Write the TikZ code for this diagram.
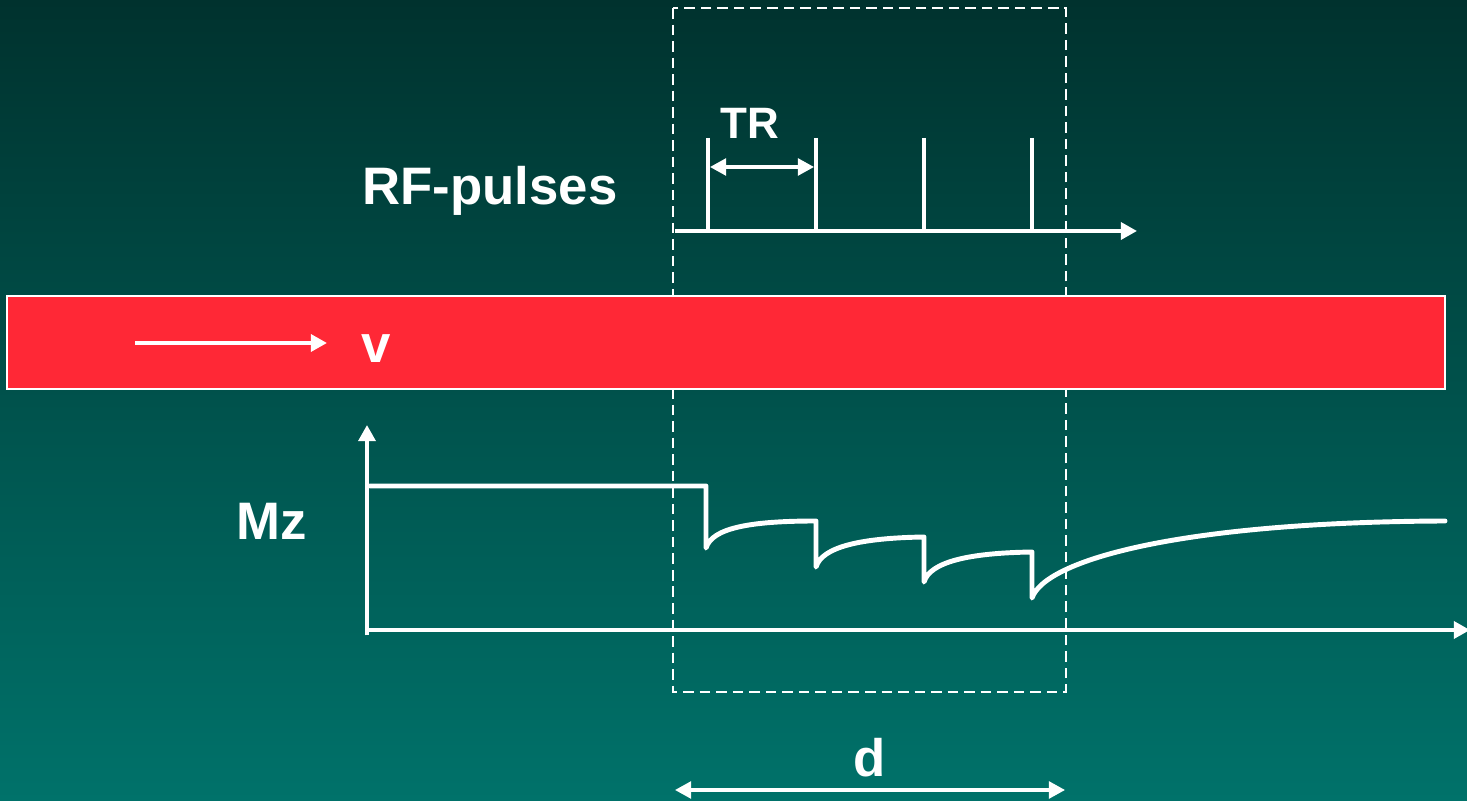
\documentclass[tikz,border=0pt]{standalone}
\usepackage{fontspec}
\setmainfont{Liberation Sans}
\usetikzlibrary{arrows.meta}
\definecolor{bgtop}{RGB}{0,50,46}
\definecolor{bgbot}{RGB}{0,114,106}
\definecolor{flowred}{RGB}{255,40,54}

\begin{document}
\begin{tikzpicture}[x=0.01cm, y=-0.01cm, axis/.style={-{Triangle[length=4.6pt, width=4.8pt]}, white, line width=1.1pt}, dim/.style={{Triangle[length=4.6pt, width=4.8pt]}-{Triangle[length=4.6pt, width=4.8pt]}, white, line width=0.9pt}, pulse/.style={white, line width=1.1pt}, curve/.style={white, line width=1.4pt, line cap=round, line join=round}, label/.style={text=white, font=\fontsize{15}{18}\selectfont\bfseries}, note/.style={text=white, font=\fontsize{12.5}{15}\selectfont\bfseries}]

\shade[top color=bgtop, bottom color=bgbot] (0,0) rectangle (1467,801);
\useasboundingbox (0,0) rectangle (1467,801);

% slice of thickness d
\draw[white, line width=0.7pt, dash pattern=on 3pt off 1.7pt] (673,8) rectangle (1066,692);

% RF pulses
\coordinate (rf0) at (675,231); \coordinate (rf1) at (1137,231);
\draw[axis] (rf0) -- (rf1);
\foreach \x/\n in {708/p1, 816/p2, 924/p3, 1032/p4} {
  \coordinate (\n) at (\x,138);
  \draw[pulse] (\n) -- (\n |- rf0);
}
\coordinate (tra) at (710,167); \coordinate (trb) at (814,167);
\draw[dim] (tra) -- (trb);
\node[note, anchor=base] (tr) at (750,139) {TR};
\node[label, anchor=base] (rf) at (490,205) {RF-pulses};

% vessel with flow
\draw[white, fill=flowred, line width=0.7pt] (7,296) rectangle (1445,389);
\coordinate (va) at (135,343); \coordinate (vb) at (327,343);
\draw[axis] (va) -- (vb);
\node[label, anchor=base] (v) at (376,363) {v};

% longitudinal magnetisation
\coordinate (o) at (367,630); \coordinate (ytop) at (367,425); \coordinate (xend) at (1470,630);
\draw[axis] ([yshift=-1.5]o) -- (ytop);
\draw[axis] (o) -- (xend);
\node[label, anchor=base] (mz) at (272,540) {Mz};
\draw[curve] (370,486) -- (706,486) -- (706,548)
  .. controls (712,528) and (750,521) .. (816,521) -- (816,567)
  .. controls (822,547) and (860,538) .. (924,537) -- (924,582)
  .. controls (930,562) and (968,553) .. (1032,552) -- (1032,598)
  .. controls (1045,560) and (1180,522) .. (1445,521);

\coordinate (da) at (675,790); \coordinate (db) at (1065,790);
\draw[dim] (da) -- (db) node[midway, above, label] (d) {d};
\end{tikzpicture}
\end{document}
